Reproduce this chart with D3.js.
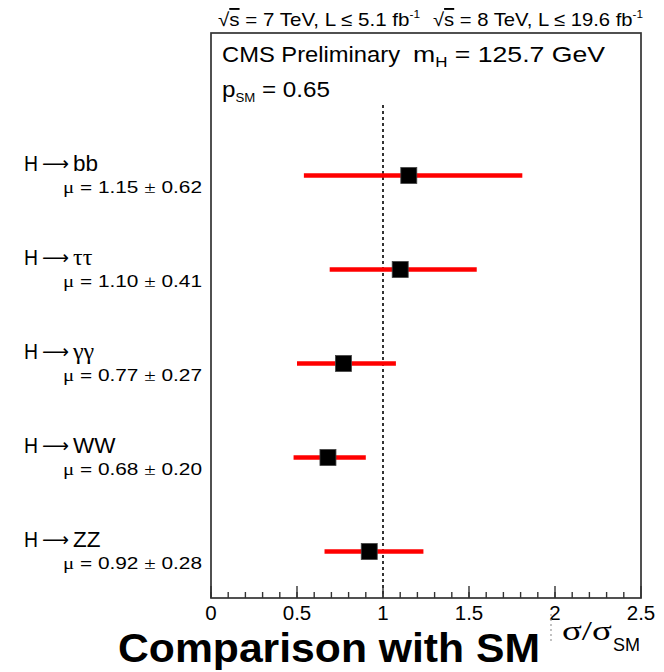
<!DOCTYPE html>
<html><head><meta charset="utf-8">
<script src="https://cdn.jsdelivr.net/npm/d3@7"></script>
<style>
html,body{margin:0;padding:0;background:#fff;}
svg{display:block;}
text{font-family:"Liberation Sans",Arial,Helvetica,sans-serif;fill:#000;}
.greek{font-family:"Liberation Serif","DejaVu Serif",serif;}
.arrow{font-family:"DejaVu Sans",sans-serif;}
</style></head>
<body>
<svg id="c" width="664" height="672"></svg>
<script>
// ---- data ----
const channels = ["bb", "ττ", "γγ", "WW", "ZZ"];
const greekChannel = [false, true, true, false, false];
const muValues = [1.15, 1.10, 0.77, 0.68, 0.92];
const muErrors = ["0.62", "0.41", "0.27", "0.20", "0.28"];
const lowEdges = [0.54, 0.69, 0.50, 0.48, 0.66];
const highEdges = [1.81, 1.545, 1.075, 0.90, 1.235];
const xTicks = [0, 0.5, 1, 1.5, 2, 2.5];
const xTickLabels = ["0", "0.5", "1", "1.5", "2", "2.5"];
const smValue = 1;

(function () {
const svg = d3.select("#c");
const x = d3.scaleLinear().domain([0, 2.5]).range([211, 641]);
const y = d3.scalePoint().domain(channels).range([175.5, 551.5]);
const frameTop = 33, frameBottom = 598;

// frame
svg.append("rect").attr("x", 211).attr("y", frameTop).attr("width", 430).attr("height", frameBottom - frameTop)
  .attr("fill", "none").attr("stroke", "#333").attr("stroke-width", 1.7);

// axis ticks
const minor = d3.range(0, 25).map(i => i / 10);
svg.append("g").selectAll("line").data(minor).join("line")
  .attr("x1", d => x(d)).attr("x2", d => x(d))
  .attr("y1", frameBottom).attr("y2", frameBottom - 6)
  .attr("stroke", "#333").attr("stroke-width", 1.4);
svg.append("g").selectAll("line").data(xTicks).join("line")
  .attr("x1", d => x(d)).attr("x2", d => x(d))
  .attr("y1", frameBottom).attr("y2", frameBottom - 12)
  .attr("stroke", "#333").attr("stroke-width", 1.4);
svg.append("g").selectAll("text").data(xTicks).join("text")
  .attr("x", d => x(d)).attr("y", 620)
  .attr("text-anchor", "middle")
  .attr("font-size", 20.5)
  .text((d, i) => xTickLabels[i]);

// SM line
svg.append("line").attr("x1", x(smValue)).attr("x2", x(smValue))
  .attr("y1", 105).attr("y2", frameBottom)
  .attr("stroke", "#333").attr("stroke-width", 2).attr("stroke-dasharray", "3,3");

// error bars
const rows = channels.map((c, i) => ({c, i}));
svg.append("g").selectAll("line").data(rows).join("line")
  .attr("x1", d => x(lowEdges[d.i])).attr("x2", d => x(highEdges[d.i]))
  .attr("y1", d => y(d.c)).attr("y2", d => y(d.c))
  .attr("stroke", "#ff0000").attr("stroke-width", 4.5);
svg.append("g").selectAll("rect").data(rows).join("rect")
  .attr("x", d => x(muValues[d.i]) - 8).attr("y", d => y(d.c) - 8)
  .attr("width", 16).attr("height", 16)
  .attr("fill", "#000").attr("stroke", "#444").attr("stroke-width", 0.8);

// channel labels: "H", arrow, final state
const labG = svg.append("g");
labG.selectAll("text.h").data(rows).join("text").attr("class", "h")
  .attr("x", 24).attr("y", d => y(d.c) - 4.5).attr("font-size", 22)
  .attr("textLength", 14).attr("lengthAdjust", "spacingAndGlyphs").text("H");
labG.selectAll("text.arrow").data(rows).join("text").attr("class", "arrow")
  .attr("x", 42).attr("y", d => y(d.c) - 6).attr("font-size", 19)
  .attr("textLength", 27).attr("lengthAdjust", "spacingAndGlyphs").text("⟶");
labG.selectAll("text.fs").data(rows).join("text")
  .attr("class", d => greekChannel[d.i] ? "fs greek" : "fs")
  .attr("x", 73).attr("y", d => y(d.c) - 4.5).attr("font-size", d => greekChannel[d.i] ? 24 : 22.5)
  .text(d => d.c);

const mul = svg.append("g").selectAll("text").data(rows).join("text")
  .attr("x", 63).attr("y", d => y(d.c) + 17.5).attr("font-size", 17)
  .attr("textLength", 139).attr("lengthAdjust", "spacingAndGlyphs");
mul.append("tspan").attr("class", "greek").text("μ");
mul.append("tspan").text(d => " = " + muValues[d.i].toFixed(2) + " ");
mul.append("tspan").attr("class", "greek").text("±");
mul.append("tspan").text(d => " " + muErrors[d.i]);

// header
function header(xp, w, sqrtS, lumi) {
  const t = svg.append("text").attr("x", xp).attr("y", 26).attr("font-size", 19)
    .attr("textLength", w).attr("lengthAdjust", "spacingAndGlyphs");
  t.append("tspan").text("√");
  t.append("tspan").attr("text-decoration", "overline").text("s");
  t.append("tspan").text(" = " + sqrtS + " TeV, L ≤ " + lumi + " fb");
  t.append("tspan").attr("font-size", 11).attr("dy", -8).text("-1");
}
header(218, 202, "7", "5.1");
header(433, 210, "8", "19.6");

svg.append("text").attr("x", 222).attr("y", 62).attr("font-size", 22)
  .attr("textLength", 178).attr("lengthAdjust", "spacingAndGlyphs").text("CMS Preliminary");
const mh = svg.append("text").attr("x", 413).attr("y", 62).attr("font-size", 22)
  .attr("textLength", 192).attr("lengthAdjust", "spacingAndGlyphs");
mh.append("tspan").text("m");
mh.append("tspan").attr("font-size", 14).attr("dy", 5).text("H");
mh.append("tspan").attr("dy", -5).text(" = 125.7 GeV");
const ps = svg.append("text").attr("x", 222).attr("y", 97).attr("font-size", 22)
  .attr("textLength", 108).attr("lengthAdjust", "spacingAndGlyphs");
ps.append("tspan").text("p");
ps.append("tspan").attr("font-size", 12).attr("dy", 5).text("SM");
ps.append("tspan").attr("dy", -5).text(" = 0.65");

// axis title
svg.append("text").attr("class", "greek").attr("x", 562).attr("y", 640).attr("font-size", 27)
  .attr("textLength", 50).attr("lengthAdjust", "spacingAndGlyphs").text("σ/σ");
svg.append("text").attr("x", 613).attr("y", 651).attr("font-size", 18)
  .attr("textLength", 27).attr("lengthAdjust", "spacingAndGlyphs").text("SM");
svg.append("line").attr("x1", 551).attr("x2", 551).attr("y1", 614).attr("y2", 642)
  .attr("stroke", "#999").attr("stroke-width", 1.2).attr("stroke-dasharray", "2,3");

// slide title
svg.append("text").attr("x", 118).attr("y", 662).attr("font-size", 41).attr("font-weight", "bold")
  .attr("textLength", 422).attr("lengthAdjust", "spacingAndGlyphs")
  .text("Comparison with SM");
})();
</script>
</body></html>
